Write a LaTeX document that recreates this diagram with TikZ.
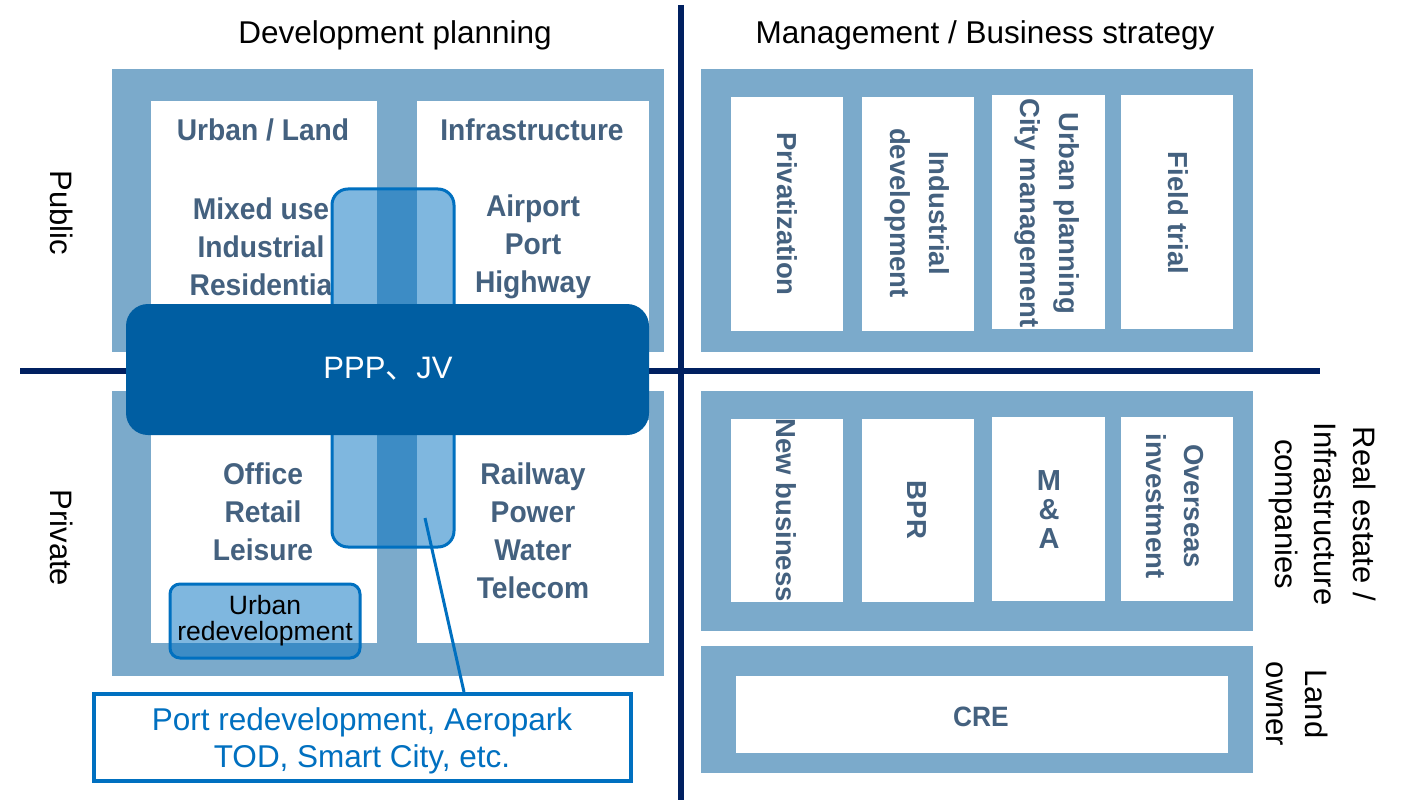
\documentclass[tikz,border=0pt]{standalone}
\usepackage{fontspec}
\setmainfont{Liberation Sans}
\newfontfamily\boxfont[FakeStretch=0.94]{Liberation Sans}
\newfontfamily\cjk{Noto Sans CJK JP}
\definecolor{navy}{RGB}{0,32,96}
\definecolor{outerblue}{RGB}{123,170,203}
\definecolor{pppblue}{RGB}{0,94,162}
\definecolor{accent}{RGB}{0,112,192}
\definecolor{boxtext}{RGB}{68,97,127}
\begin{document}
\begin{tikzpicture}[x=1pt,y=-1pt,
  every node/.style={inner sep=0pt, outer sep=0pt},
  panel/.style={fill=outerblue, draw=none, anchor=north west},
  cell/.style={fill=white, draw=none, anchor=north west},
  heading/.style={font=\fontsize{31.5}{37}\selectfont, text=black},
  sidelabel/.style={font=\fontsize{31}{39}\selectfont, text=black, rotate=-90, align=center},
  celltext/.style={font=\boxfont\bfseries\fontsize{30}{38}\selectfont, text=boxtext, align=center},
  vtext/.style={font=\bfseries\fontsize{27.5}{38.5}\selectfont, text=boxtext, align=center, rotate=-90},
  divider/.style={draw=navy, line width=6.5pt},
  glassbox/.style={fill=accent, fill opacity=0.5, draw=accent, draw opacity=1, line width=3pt, anchor=north west},
]
\useasboundingbox[fill=white] (0,0) rectangle (1415,810);

% dividers
\coordinate (vt) at (681,5);
\coordinate (vb) at (681,800);
\coordinate (hl) at (20,371);
\coordinate (hr) at (1320,371);
\draw[divider] (vt) -- (vb);
\draw[divider] (hl) -- (hr);

% headings
\node[heading] (hdev) at (395,35) {Development planning};
\node[heading] (hman) at (985,35) {Management / Business strategy};
\node[sidelabel] (lpub) at (62,213) {Public};
\node[sidelabel] (lpri) at (62,538) {Private};
\node[sidelabel] (lreal) at (1322,514) {Real estate /\\Infrastructure\\companies};
\node[sidelabel] (lland) at (1297,704) {Land\\owner};

% left panels
\node[panel, minimum width=552pt, minimum height=283pt] (ptl) at (112,69) {};
\node[panel, minimum width=552pt, minimum height=285pt] (pbl) at (112,391) {};
\node[cell, minimum width=226pt, minimum height=229pt] (cul) at (151,101) {};
\node[cell, minimum width=232pt, minimum height=229pt] (cur) at (417,101) {};
\node[cell, minimum width=226pt, minimum height=223pt] (cll) at (151,420) {};
\node[cell, minimum width=232pt, minimum height=223pt] (clr) at (417,420) {};

\node[celltext] (turban) at (263,130) {Urban / Land};
\node[celltext] (tinfra) at (532,130) {Infrastructure};
\node[celltext] (tmix) at (261,247) {Mixed use\\Industrial\\Residentia};
\node[celltext] (tair) at (533,247) {Airport\\Port\\Highway};
\node[celltext] (toff) at (263,512) {Office\\Retail\\Leisure};
\node[celltext] (trail) at (533,531) {Railway\\Power\\Water\\Telecom};

% overlay boxes
\node[glassbox, rounded corners=16pt, minimum width=122pt, minimum height=358pt] (tall) at (332,189) {};
\node[fill=pppblue, rounded corners=22pt, anchor=north west, minimum width=523pt, minimum height=131pt] (ppp) at (126,304) {};
\node[font=\fontsize{31}{37}\selectfont, text=white] (ppptext) at (388,369) {PPP{\cjk 、}JV};
\node[glassbox, rounded corners=10pt, minimum width=190pt, minimum height=74pt] (urbred) at (170,584) {};
\node[font=\fontsize{26.5}{26}\selectfont, text=black, align=center] (urbredtext) at (265,621) {Urban\\redevelopment};

% callout
\node[draw=accent, line width=4pt, fill=white, anchor=north west, minimum width=537pt, minimum height=87pt] (callout) at (94,694) {};
\node[font=\fontsize{31.5}{37}\selectfont, text=accent, align=center] (callouttext) at (362,741) {Port redevelopment, Aeropark\\TOD, Smart City, etc.};
\coordinate (cstart) at (425,518);
\coordinate (cend) at (464,692);
\draw[accent, line width=3pt] (cstart) -- (cend);

% right panels
\node[panel, minimum width=552pt, minimum height=283pt] (ptr) at (701,69) {};
\node[panel, minimum width=552pt, minimum height=240pt] (pbr) at (701,391) {};
\node[panel, minimum width=552pt, minimum height=127pt] (pland) at (701,646) {};

\node[cell, minimum width=112pt, minimum height=234pt] (r1) at (731,97) {};
\node[cell, minimum width=112pt, minimum height=234pt] (r2) at (862,97) {};
\node[cell, minimum width=113pt, minimum height=234pt] (r3) at (992,95) {};
\node[cell, minimum width=112pt, minimum height=234pt] (r4) at (1121,95) {};
\node[cell, minimum width=112pt, minimum height=183pt] (s1) at (731,419) {};
\node[cell, minimum width=112pt, minimum height=183pt] (s2) at (862,419) {};
\node[cell, minimum width=113pt, minimum height=184pt] (s3) at (992,417) {};
\node[cell, minimum width=112pt, minimum height=184pt] (s4) at (1121,417) {};
\node[cell, minimum width=492pt, minimum height=77pt] (cre) at (736,676) {};

\node[vtext] (tpriv) at (787,214) {Privatization};
\node[vtext] (tind) at (917,213) {Industrial\\development};
\node[vtext] (turb) at (1047,213) {Urban planning\\City management};
\node[vtext] (tfield) at (1178,213) {Field trial};
\node[vtext] (tnew) at (786,510) {New business};
\node[vtext] (tbpr) at (917,510) {BPR};
\node[font=\bfseries\fontsize{29}{29}\selectfont, text=boxtext, align=center] (tma) at (1049,510) {M\\\&\\A};
\node[vtext] (tover) at (1175,506) {Overseas\\investment};
\node[celltext, font=\boxfont\bfseries\fontsize{28}{30}\selectfont] (tcre) at (981,717) {CRE};
\end{tikzpicture}
\end{document}
